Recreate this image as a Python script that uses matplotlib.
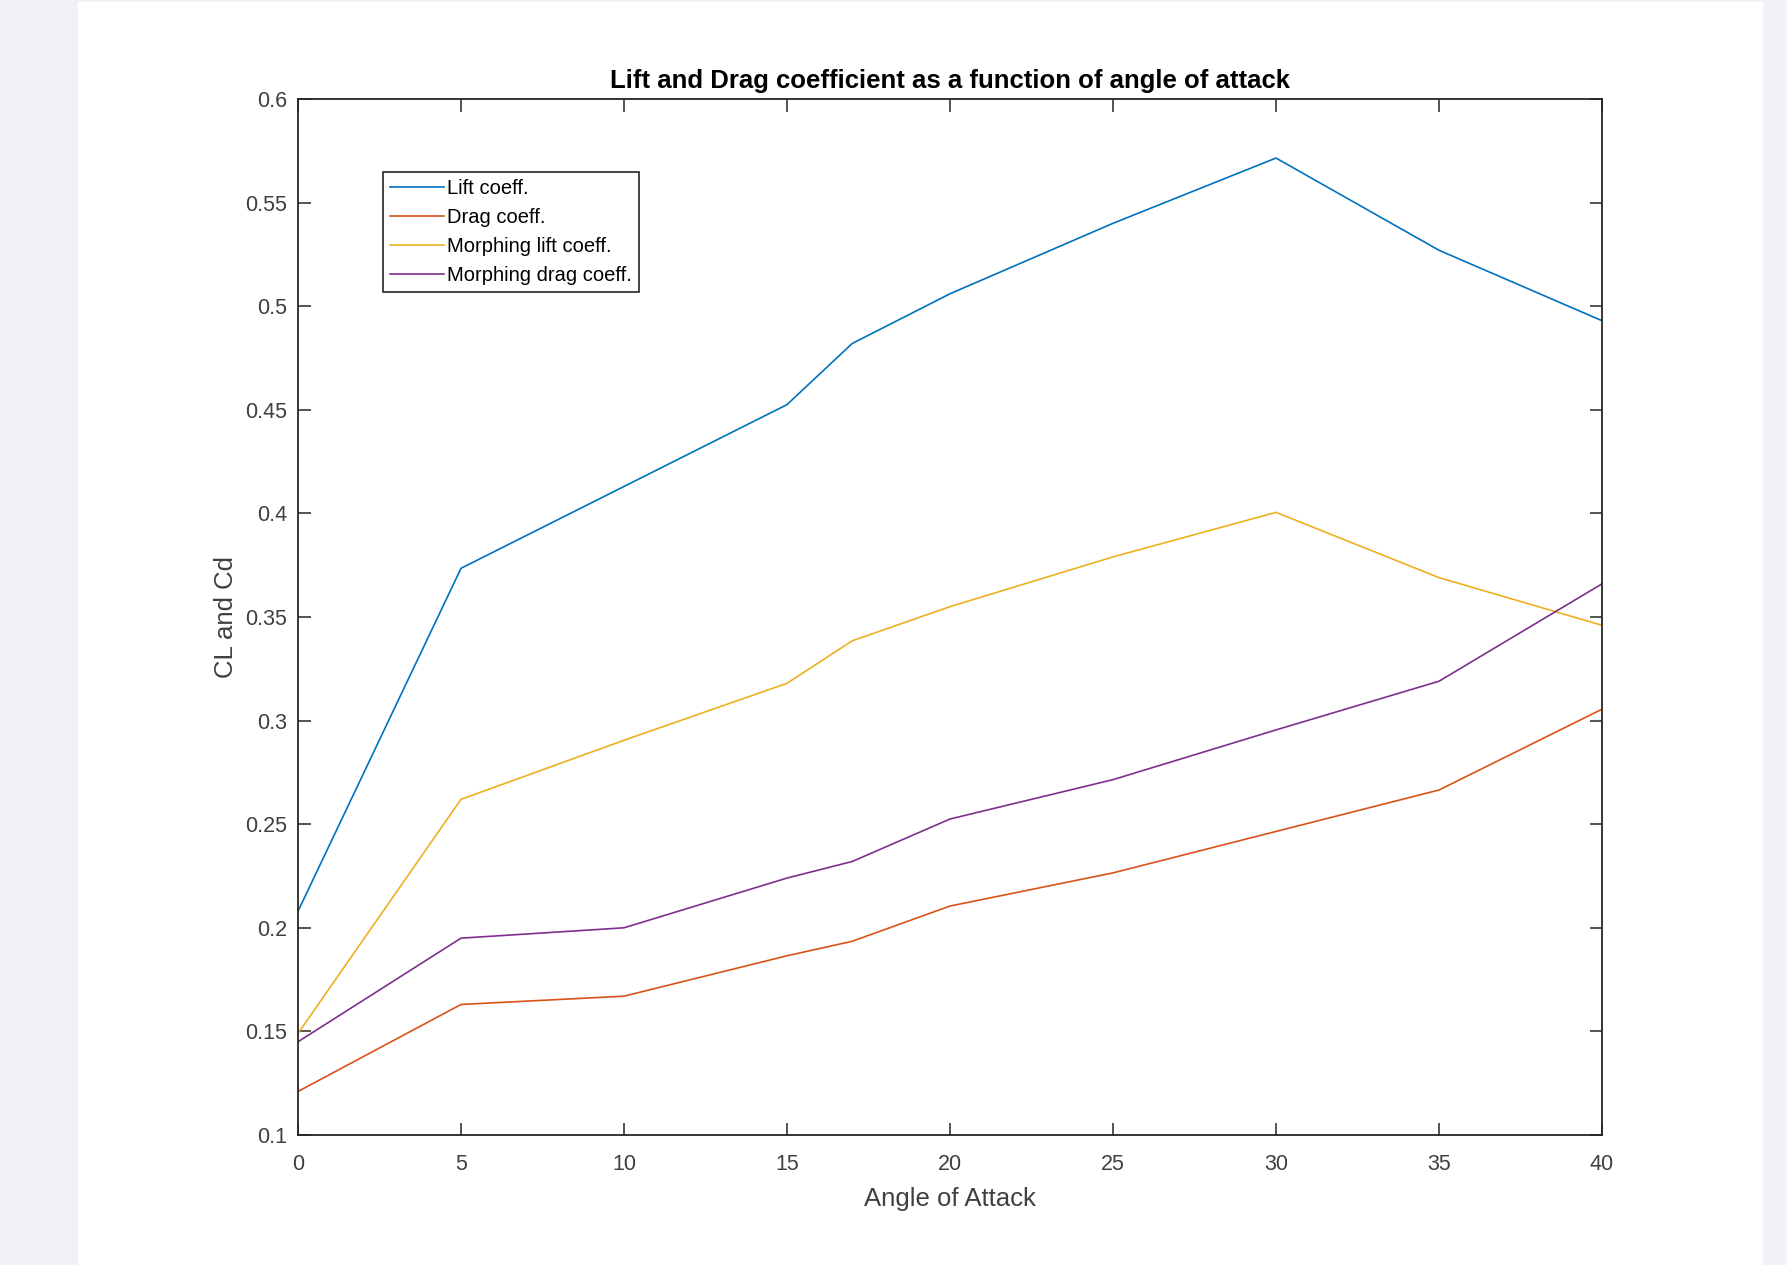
import numpy as np
import matplotlib
matplotlib.use('Agg')
import matplotlib.pyplot as plt
from matplotlib.patches import Rectangle

plt.rcParams['font.family'] = ['Liberation Sans', 'DejaVu Sans']

# angle of attack (deg)
aoa = [0, 5, 10, 15, 17, 20, 25, 30, 35, 40]

# coefficients
lift = [0.208, 0.3735, 0.413, 0.4525, 0.482, 0.506, 0.540, 0.5715, 0.527, 0.493]
drag = [0.121, 0.163, 0.167, 0.1865, 0.1935, 0.2105, 0.2265, 0.2465, 0.2665, 0.3055]
morph_lift = [0.149, 0.262, 0.2905, 0.318, 0.3385, 0.355, 0.379, 0.4005, 0.369, 0.346]
morph_drag = [0.145, 0.195, 0.200, 0.224, 0.232, 0.2525, 0.2715, 0.2955, 0.319, 0.366]

labels = ['Lift coeff.', 'Drag coeff.', 'Morphing lift coeff.', 'Morphing drag coeff.']
colors = ['#0072BD', '#D95319', '#EDB120', '#7E2F8E']

xticks = np.arange(0, 41, 5)
yticks = np.arange(0.1, 0.601, 0.05)

fig = plt.figure(figsize=(17.87, 12.65), dpi=100)
fig.patch.set_facecolor('#F0F2F8')
# white page behind the plot
fig.patches.append(Rectangle((78 / 1787, 0), (1763 - 78) / 1787, 1 - 2 / 1265,
                             transform=fig.transFigure, facecolor='white',
                             edgecolor='none', zorder=-10))

ax = fig.add_axes([298 / 1787, 1 - 1135 / 1265, (1602 - 298) / 1787, (1135 - 99) / 1265])
ax.set_zorder(5)

for ys, lab, c in zip([lift, drag, morph_lift, morph_drag], labels, colors):
    ax.plot(aoa, ys, color=c, lw=1.2, label=lab)

ax.set_xlim(0, 40)
ax.set_ylim(0.1, 0.6)
ax.set_xticks(xticks)
ax.set_yticks(yticks)
ax.set_xticklabels(['%g' % t for t in xticks])
ax.set_yticklabels(['%g' % round(t, 2) for t in yticks])

ax.tick_params(direction='in', top=True, right=True, length=9, width=1.1,
               color='#262626', labelcolor='#404040', labelsize=15.5)
ax.tick_params(axis='x', pad=14)
ax.tick_params(axis='y', pad=8)
for s in ax.spines.values():
    s.set_color('#262626')
    s.set_linewidth(1.3)

ax.set_title('Lift and Drag coefficient as a function of angle of attack',
             fontsize=18.5, fontweight='bold', color='black', pad=8)
ax.set_xlabel('Angle of Attack', fontsize=18.5, color='#404040', labelpad=8)
ax.set_ylabel('CL and Cd', fontsize=18.5, color='#404040', labelpad=5)

leg = ax.legend(loc='upper left', bbox_to_anchor=(0.0652, 0.9295), borderaxespad=0,
                fontsize=14.5, handlelength=2.7, handletextpad=0.15, labelspacing=0.5,
                borderpad=0.35, fancybox=False, framealpha=1)
leg.get_frame().set_edgecolor('#262626')
leg.get_frame().set_linewidth(1.2)

plt.savefig('out.png', dpi=100, facecolor=fig.get_facecolor())
